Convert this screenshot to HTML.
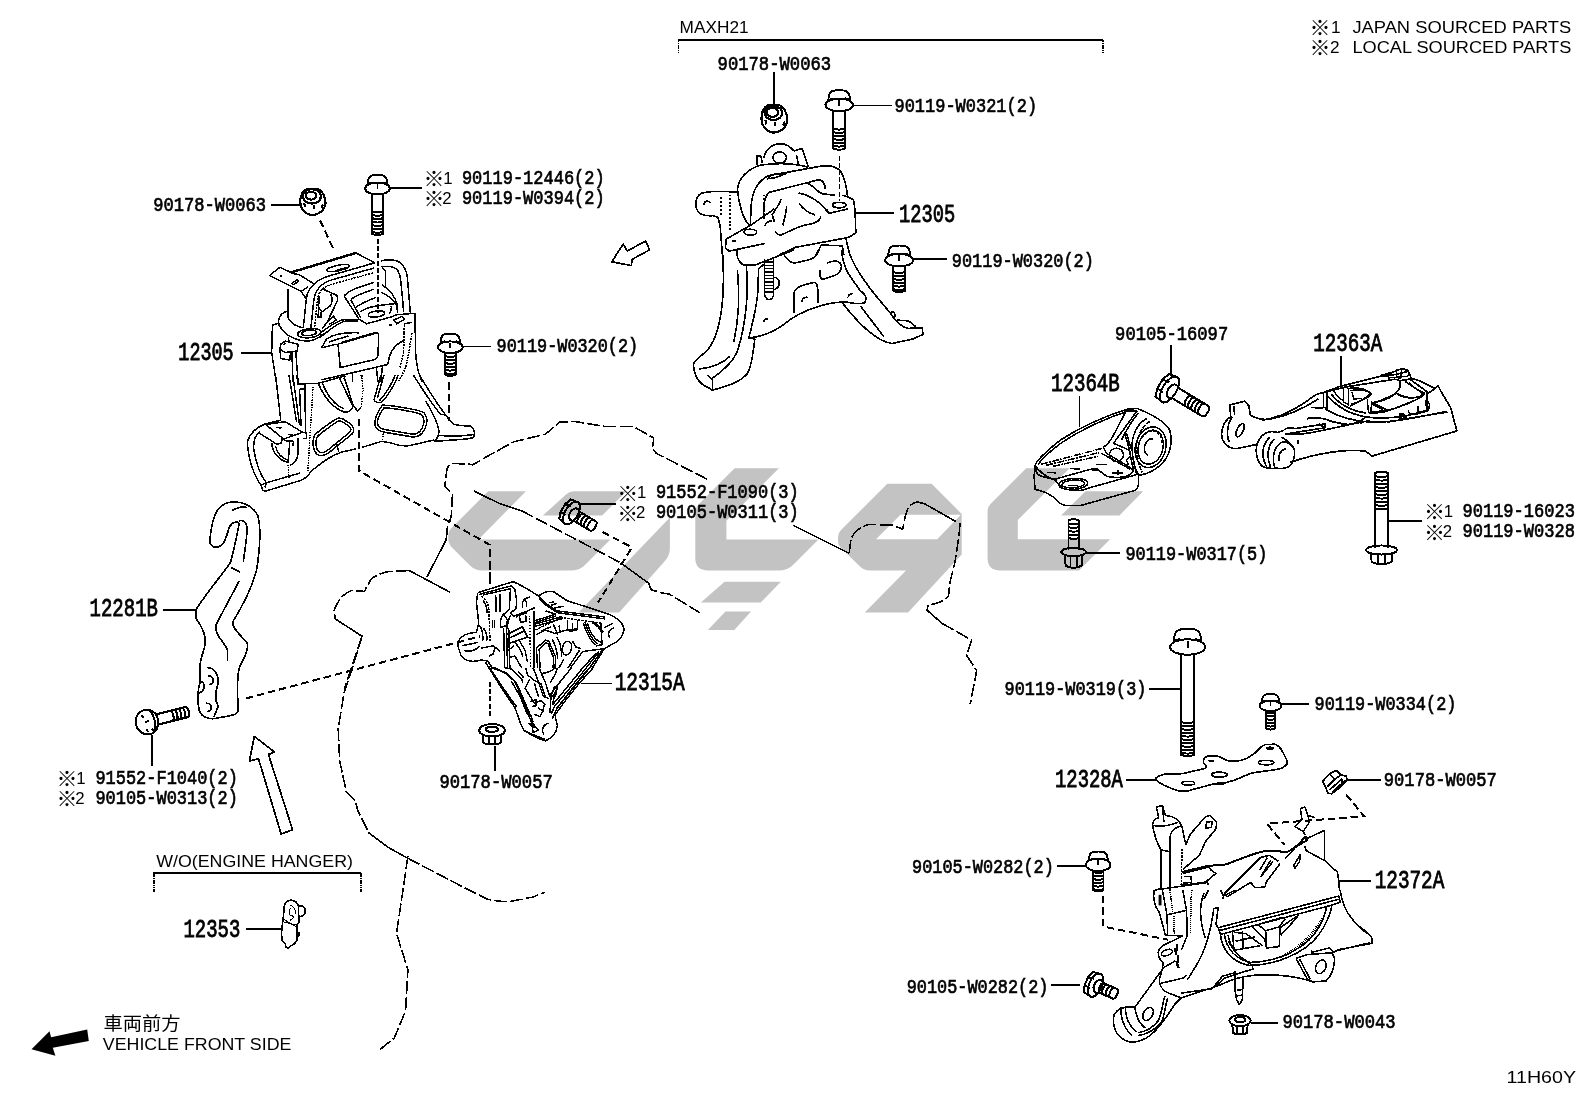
<!DOCTYPE html>
<html lang="ja"><head><meta charset="utf-8"><title>11H60Y</title>
<style>
html,body{margin:0;padding:0;background:#fff;}
body{width:1592px;height:1099px;overflow:hidden;}
svg{display:block;will-change:transform;}
.pn{font-family:"Liberation Mono","DejaVu Sans Mono",monospace;font-size:20.6px;fill:#000;stroke:#000;stroke-width:0.7px;}
.pb{font-family:"Liberation Mono","DejaVu Sans Mono",monospace;font-size:25px;fill:#000;stroke:#000;stroke-width:0.85px;}
.rg{font-family:"Liberation Sans","Noto Sans CJK JP",sans-serif;font-size:17.2px;fill:#000;}
.nt{font-family:"Liberation Sans","Noto Sans CJK JP",sans-serif;font-size:15px;fill:#000;}
.jp{font-family:"Liberation Sans","Noto Sans CJK JP",sans-serif;font-size:18.6px;fill:#000;}
.l{shape-rendering:crispEdges;fill:none;stroke:#000;stroke-width:1.45;stroke-linecap:butt;stroke-linejoin:round;}
.d{shape-rendering:crispEdges;fill:none;stroke:#000;stroke-width:2;stroke-dasharray:7.5 4;}
.w{fill:#c3c3c3;stroke:none;}
</style></head><body>
<svg width="1592" height="1099" viewBox="0 0 1592 1099">
<rect x="0" y="0" width="1592" height="1099" fill="#fff"/>
<!-- watermark.svg -->
<g id="watermark" class="w">
<path d="M488.2,491.3 L525.9,491.3 L478.5,539.6 L610.4,539.6 L586,564 Q580,570.5 572,570.5 L482,570.5 Q475,570.5 470,565.5 L452,547.5 Q448.3,543.8 448.3,538 L448.3,536 Q448.3,531.3 451.5,528 Z"/>
<path d="M574,491.3 L626.2,491.3 L602.1,515.6 L542.8,515.6 L566,494.5 Q569.7,491.3 574,491.3 Z"/>
<path d="M669.9,517.5 L669.9,548 Q669.9,556 664,562 L619.1,612.4 L578.6,612.4 Z"/>
<path d="M734.6,468.3 L778.9,468.3 L726.4,520.8 L726.4,539.4 L818.5,539.4 L794,564 Q788,570.4 780,570.4 L708,570.4 Q695.3,570.4 695.3,558 L695.3,513 Q695.3,508 699,504 Z"/>
<path d="M724.6,581.7 L780.9,581.7 L760.7,602.6 L700.9,602.6 Z"/>
<path d="M725.5,611.6 L751,611.6 L734.3,630 L707.9,630 Z"/>
<path fill-rule="evenodd" d="M887.3,483.7 L931.6,483.7 L961.7,513.9 L961.7,554.4 L908,612.4 L864.7,612.4 L906.1,570.4 L870,570.4 Q864,570.4 860,566.5 L841,548 Q838,545 838,541 L838,537 Q838,533 841,530 Z M900.5,514.8 L960.8,514.8 L937.2,539.3 L876,539.3 Z"/>
<path d="M1026.2,468.3 L1069.6,468.3 L1017.8,520 L1017.8,539.3 L1110.1,539.3 L1079,570.4 L1000,570.4 Q987.6,570.4 987.6,558 L987.6,511 Q987.6,507 990.5,504 Z"/>
<path d="M1085.6,491.2 L1143.1,491.2 L1119.5,515.4 L1061.1,515.4 Z"/>
</g>
<!-- engine.svg -->
<g id="engine">
<g transform="translate(320 410) scale(0.25478)">
<path class="l" style="stroke-width:6.24;stroke-dasharray:52 12" d="M1520,272 L1320,170 L1305,150 L1310,110 L1230,65 L1120,65 L1000,45 L940,48 L885,95 L760,125 L660,180 L600,215 L580,212 L520,210 Q500,215 497,240 L490,300 L520,330 L515,420 L500,460 L495,510"/>
<path class="l" style="stroke-width:6.24" d="M500,470 L495,510 L420,655 M350,630 L510,715 M605,318 L700,365 L790,395 M1180,600 L1290,680 M60,820 L165,888"/>
<path class="l" style="stroke-width:6.24;stroke-dasharray:52 12" d="M350,630 L260,635 Q215,650 200,665 L180,700 L175,712 L125,708 Q95,720 80,740 Q60,770 55,790 L60,820 M165,888 L130,990 L95,1099"/>
<path class="l" style="stroke-width:6.24;stroke-dasharray:52 12" d="M790,395 L1180,600 M1290,680 L1300,705 L1340,718 L1370,722 L1490,795"/>
</g>
<g transform="translate(690 440) scale(0.25478)">
<path class="l" style="stroke-width:6.24" d="M405,335 L625,445 M890,243 L920,250 L1000,295 M935,648 L930,668 L990,720"/>
<path class="l" style="stroke-width:6.24;stroke-dasharray:52 12" d="M625,445 L630,400 Q640,350 700,332 L790,333 L835,350 L845,300 Q855,250 890,243 M1000,295 L1060,330 L1055,380 L1040,480 L1020,560 L1015,610 Q1005,635 935,648 M990,720 L1105,785 L1085,845 L1125,905 L1115,960 L1100,1035"/>
</g>
<path class="l" style="stroke-width:1.56" d="M369.2,833.2 L387.4,846.9 L407.9,858.3"/>
<path class="l" style="stroke-width:1.56;stroke-dasharray:13 3" d="M362.4,635.1 L353.3,664.7 L344.2,692 L338.2,728.5 L339.6,760.4 L346.4,792.2 L355.5,801.3 L357.8,810.5 L369.2,833.2 M407.9,858.3 L460.3,885.6 L487.6,899.2 Q500,902 510.4,901.5 L533.1,897 L544.5,892.4 M407.9,856 L403.3,887.9 L396.5,933.4 L407.9,969.8 L405.6,1010.8 L394.2,1038.1 L378.3,1050.9"/>
</g>
<!-- p12305L.svg -->
<g id="p12305L">
<g transform="translate(240 262) scale(0.15076)" class="l" style="stroke-width:9.96">
<path d="M335,68 L265,35 L195,90 L405,195 L450,165 M345,75 L395,85 L490,145 M345,140 L380,118 L390,128 L355,150 Z M262,90 L280,95"/>
<path style="stroke-width:16.80" d="M335,70 L769,-60"/><path d="M769,-60 L892,4 L760,45"/>
<path d="M320,180 L320,370 C335,410 390,435 420,435 M405,195 L440,245"/>
<path d="M320,325 C270,335 245,375 260,420 C285,470 340,505 400,520 L450,525 C500,520 530,500 560,470"/>
<ellipse cx="460" cy="472" rx="78" ry="30" transform="rotate(-6 460 472)"/><ellipse cx="458" cy="470" rx="48" ry="18" transform="rotate(-6 458 470)"/>
<path d="M420,435 L440,245 C450,160 520,110 600,90 L895,5 M470,440 L490,250 C500,180 540,140 610,118 L890,40"/>
<path style="stroke-dasharray:14 6" d="M495,430 L515,240 C525,195 555,165 600,150 L890,70"/>
<ellipse cx="650" cy="40" rx="75" ry="18" transform="rotate(-12 650 40)"/><path style="stroke-width:16.80" d="M630,62 L705,40"/>
<path d="M545,178 L640,220 Q655,240 640,270 L575,405 M600,210 Q622,250 600,290 L545,330 L520,300 M525,225 L518,365 L538,365 L538,330 M575,405 L620,360 L640,385 L590,415 M545,440 L580,400"/>
<path d="M690,225 C720,190 760,175 890,135 M690,225 L790,380 M735,250 C760,225 800,210 890,180 M735,250 L800,370 M770,300 C800,275 850,255 900,235 M800,330 C830,305 880,290 1040,275"/>
<ellipse cx="905" cy="345" rx="55" ry="20" transform="rotate(-8 905 345)"/>
<path d="M935,-6 C980,-20 1040,-15 1066,7 C1095,35 1105,60 1110,100 L1130,340 M935,30 C990,25 1030,35 1045,54 C1060,80 1064,100 1066,121 L1079,252 L1085,335 M940,30 L965,60 L965,170 M940,150 C990,180 1030,230 1045,290 M935,200 C980,220 1020,250 1040,290 M1040,275 L1045,340 M1000,290 C1010,300 1000,330 990,345"/>
<path d="M540,465 C600,420 650,385 700,380 L790,380 L840,410 L1000,365 L1040,350 M520,505 C580,470 640,400 700,392 L785,392"/>
<path d="M1040,350 L1160,340 L1165,600 C1170,700 1190,760 1210,796 M1020,385 L1075,360 L1090,380 L1040,410 Z M985,415 L1010,420 M1090,410 L1140,400"/>
<path d="M255,405 L215,420 L210,600 L240,796"/>
<path d="M650,545 L905,470 Q920,470 920,490 L915,620 Q910,640 890,648 L665,700 Z M540,570 L575,510 C620,480 700,465 790,470 M590,530 L720,490 M540,570 L640,545"/>
<path style="stroke-width:15.60" d="M670,537 L900,470"/>
<path d="M540,782 L980,680 L990,630 C1010,570 1050,535 1090,520"/>
<path style="stroke-dasharray:12 6" d="M1090,420 L1085,600 L1060,700 M1140,470 L1120,600 L1100,700 L1050,796"/>
<path d="M270,545 L300,525 L385,545 L380,590 L300,600 L265,580 Z M265,580 L270,640 L330,650 L335,600 M345,600 L350,796 M370,590 L385,796 M320,500 L325,530 M285,550 L305,540"/>
<path d="M690,770 L700,796 M745,735 L745,796 M905,700 L915,796 M945,690 L935,796"/>
<path style="stroke-dasharray:5 6" d="M800,740 L810,796"/>
</g>
<g transform="translate(240 375) scale(0.15076)" class="l" style="stroke-width:9.96">
<path d="M236,0 L270,300"/>
<path d="M270,300 L165,325 C100,350 60,400 50,440 C50,560 100,680 140,730 L150,765 L170,770 L400,700 C440,685 460,660 470,640"/>
<path d="M130,375 C100,400 90,440 90,480 C100,580 140,670 175,715 L400,650 M175,715 L165,745 M140,730 L175,715"/>
<path d="M170,328 L300,310 L415,380 L290,425 Z M240,348 L275,352 M320,395 L350,398 M120,380 L245,460 L275,450 L280,415 M210,450 C215,520 260,565 320,580 L330,440 M235,470 C245,520 280,555 320,565 M295,435 L355,440 L350,470 M330,600 C360,590 380,560 385,520 L385,420 M415,380 L440,385 L440,420 L415,420"/>
<path d="M325,0 L375,310 M350,0 L395,330 M375,0 L385,60 L430,60 L435,380 M395,90 L405,340 M385,58 L520,55 L700,5"/>
<path style="stroke-width:15.60" d="M395,92 L430,92"/>
<path style="stroke-dasharray:6 5" d="M485,70 L450,640 M320,600 L325,690"/>
<path d="M520,58 C560,150 620,220 690,245 C720,250 745,235 750,200 L690,10 M545,50 C580,140 630,200 690,225 M660,20 L745,200"/>
<path style="stroke-dasharray:6 5" d="M750,200 L780,240 L805,215 L815,100 L810,0"/>
<path d="M750,200 L780,240 L805,215"/>
<path d="M655,285 C640,285 520,370 495,400 C475,440 485,500 510,525 C540,545 570,530 590,515 L745,390 C765,370 750,340 735,325 L680,290 Z M655,305 C640,310 535,385 512,410 C497,440 503,490 522,508 C545,522 565,512 580,500 L728,380 C742,365 735,350 722,338 L675,308 Z"/>
<path d="M945,200 C920,230 890,290 895,330 C900,360 930,375 960,380 L1140,410 C1180,415 1210,390 1225,360 C1245,320 1245,280 1220,250 C1190,230 1000,200 945,200 Z M955,218 C935,245 908,295 912,325 C917,347 940,358 965,362 L1138,392 C1170,396 1195,378 1208,352 C1225,318 1225,288 1205,263 C1180,247 1005,218 955,218 Z"/>
<path d="M935,0 L890,160 C890,180 920,190 940,180 C980,140 1030,60 1050,0 M955,0 L912,150 M925,170 C965,130 1010,55 1030,0"/>
<path d="M1150,0 C1200,80 1280,200 1330,260 L1365,265 M1190,0 C1250,100 1330,230 1400,310 L1415,325 C1460,340 1500,335 1530,340 C1550,350 1560,380 1555,400 C1550,420 1530,420 1500,425 L1290,440 M1290,440 C1310,420 1320,400 1320,370 C1310,300 1260,220 1230,170 M1320,400 C1400,410 1480,405 1555,395"/>
<path d="M470,640 C520,600 580,540 680,510 L770,490 M810,480 L940,440 L1000,450 C1050,470 1100,475 1140,465 L1290,430 M640,450 L655,510"/>
<path style="stroke-dasharray:6 5" d="M950,360 L945,440"/>
</g>
</g>
<!-- p12305R.svg -->
<g id="p12305R">
<g transform="translate(690 135) scale(0.15076)" class="l" style="stroke-width:10.80">
<path d="M445,200 L445,140 L470,140 L480,185 M490,150 C500,100 540,60 600,58 C640,58 660,75 690,105 L745,90 L785,215 M705,130 L720,195"/>
<ellipse cx="595" cy="150" rx="45" ry="38"/>
<path d="M785,215 C700,185 560,185 470,200 C380,225 320,290 315,360 C320,440 350,560 395,600"/>
<path d="M400,600 L405,480 C410,380 440,310 520,270 L850,210 C920,195 970,210 1000,240 C1030,290 1040,350 1045,410 L1085,430 L1095,500 L1100,650 L1050,680 L700,745 L590,796"/>
<path d="M515,290 L545,262 L640,255 L560,285 Z M490,560 C485,470 490,410 525,380 L850,298 C880,295 895,320 898,360"/>
<path d="M780,320 C830,340 840,380 880,390 L960,400 M720,385 C800,400 870,450 920,520 L1050,490 M920,520 L905,490 M1045,410 L1010,400"/>
<ellipse cx="990" cy="465" rx="45" ry="18"/>
<path d="M605,425 C590,470 560,500 545,530 L560,575 M640,470 C640,520 625,560 615,600 M725,455 C750,490 790,520 830,530 M870,540 C860,570 840,580 800,590 C720,600 660,640 600,665 C580,660 570,650 565,635 M495,605 C505,580 520,570 545,570"/>
<path d="M400,600 L240,690 L235,750 L260,770 L495,720 M400,600 L560,490 M280,705 L305,705"/>
<ellipse cx="400" cy="645" rx="42" ry="20"/>
<path d="M315,380 C200,370 120,375 80,385 C45,400 35,440 40,480 C50,520 90,540 150,535 L185,545 L200,600 L215,796 M95,465 C90,440 120,430 135,450"/>
<path style="stroke-dasharray:5 4" d="M205,410 V530 M265,400 V640 M490,400 V530"/>
<path d="M840,796 L870,730 L1010,735 L1020,796 M1035,690 L1060,796"/>
</g>
<g transform="translate(690 250) scale(0.15076)" class="l" style="stroke-width:10.80">
<path d="M215,0 C225,150 230,300 200,450 C180,550 160,620 100,680 C60,710 30,730 22,760 C25,810 45,860 80,890 L150,930 C250,900 330,880 380,820 C410,770 420,680 430,590"/>
<path d="M315,135 C330,300 320,480 290,610 M375,105 L380,280 C370,450 340,600 310,680 C280,750 220,800 150,850 L150,930 M60,790 C150,780 220,750 265,705 M115,830 L150,860"/>
<path d="M310,0 C310,60 330,90 360,100 L430,100 L690,0 M455,125 L490,95 M455,125 L450,280 C440,400 410,500 390,585 L430,590"/>
<path d="M495,60 L495,300 C510,340 540,340 555,300 L555,50 M560,180 C600,190 605,240 560,265"/>
<path style="stroke-width:8.40" d="M495,80 H555 M495,102 H555 M495,124 H555 M495,146 H555 M495,168 H555 M495,190 H555 M495,212 H555 M495,234 H555 M495,256 H555 M495,278 H555"/>
<path d="M390,585 C500,570 580,530 640,480 C740,400 900,350 1010,345 C1060,340 1100,370 1160,350 C1175,320 1160,290 1130,270"/>
<path d="M690,420 L690,290 C695,250 720,240 820,215 C845,215 850,240 850,350 M745,345 C740,320 760,310 785,315 M490,480 C485,460 500,455 520,458 M1050,315 C1048,295 1060,290 1078,292"/>
<path d="M625,35 C650,70 680,90 700,85 L790,65 C830,55 840,30 850,0 M910,85 C960,65 1000,70 1005,110 C1000,150 980,165 940,175 L880,195 C860,190 860,160 862,135"/>
<path d="M1005,0 C1010,80 1040,150 1080,200 L1130,270 M1050,0 C1080,100 1150,200 1230,300 L1330,420 C1340,400 1360,410 1360,440 L1350,455 M1330,420 C1370,480 1400,510 1450,520 L1540,515 L1545,560 L1480,590 L1340,620 C1260,610 1150,530 1010,350 M1130,370 L1285,575 M1370,465 L1450,470 L1500,510"/>
</g>
</g>
<!-- p12364B.svg -->
<g id="p12364B">
<g transform="translate(1020 400) scale(0.1005)" class="l" style="stroke-width:15.60">
<path d="M150,650 C160,610 250,520 400,400 C600,270 850,160 1070,90 L1170,85 C1300,140 1430,200 1490,300 C1520,400 1500,520 1440,600 C1380,680 1280,740 1180,750"/>
<path d="M180,650 C200,600 300,510 420,420 C620,290 860,180 1075,110 L1165,110"/>
<path d="M150,650 L140,760 L150,890 C220,900 280,930 330,965 C370,1010 410,1045 456,1049 L606,1049 L1149,898 C1170,880 1178,860 1178,842 L1180,750"/>
<path d="M150,650 C180,700 260,770 340,790 C380,820 400,870 450,890 L600,900 C660,890 700,870 740,860 L1170,740 M180,690 C220,740 300,780 360,800 M165,670 C150,700 160,730 200,755 L340,790"/>
<path d="M340,790 L700,690 L760,685 C800,700 820,740 870,760 C950,780 1050,770 1100,740 L1130,700"/>
<path style="stroke-width:26.40" d="M720,690 L775,690"/>
<path style="stroke-dasharray:70 14 14 14" d="M210,640 L820,480 M260,650 L800,520 M330,660 L780,560"/>
<g transform="rotate(15 1300 470)"><ellipse cx="1300" cy="470" rx="150" ry="205"/><ellipse cx="1300" cy="470" rx="122" ry="172"/><path d="M1300,385 A60,85 0 0,0 1300,555"/><path style="stroke-dasharray:30 14" d="M1195,400 A112,160 0 0,1 1400,400"/></g>
<path d="M1070,90 C1000,200 950,330 900,400 C880,430 860,450 830,470 M1165,110 C1080,220 1000,340 930,430 M1175,130 C1100,230 1040,330 1010,400 M930,430 L1090,500 M1040,330 C1060,400 1080,450 1090,500 M1060,330 C1075,390 1095,440 1105,490"/>
<ellipse cx="960" cy="545" rx="70" ry="65"/>
<path d="M1260,185 C1170,230 1110,350 1115,480 C1120,600 1150,700 1180,750"/><path style="stroke-dasharray:40 14" d="M1290,215 C1215,260 1160,370 1160,480 C1165,580 1185,660 1215,720"/>
<path d="M830,470 L860,530 L1060,650 L1130,700 L1100,560 L1090,500 M1100,560 L1060,600 L1080,650 M810,530 L1010,640 L1100,690 M1120,560 L1160,740"/>
<ellipse cx="530" cy="835" rx="145" ry="55" transform="rotate(-4 530 835)"/><ellipse cx="530" cy="835" rx="112" ry="38" transform="rotate(-4 530 835)"/>
<path d="M480,852 L580,850 M270,720 L360,725 M500,680 L600,690 M760,640 L870,640 M920,725 L1020,725 M975,700 L975,745"/>
</g>
</g>
<!-- p12363A.svg -->
<g id="p12363A">
<g transform="translate(1215 365) scale(0.15704)" class="l" style="stroke-width:10.56">
<path d="M100,330 L95,255 L190,230 L215,260 L225,320 C260,340 300,350 340,345 M100,330 C50,360 30,430 50,480 C70,520 110,540 150,530 L270,505 M120,260 L125,320 M110,330 C80,370 70,440 90,490"/>
<ellipse cx="160" cy="415" rx="20" ry="45" transform="rotate(25 160 415)"/>
<path d="M340,345 C450,320 550,260 640,190 L690,175 L800,135 M300,350 C440,340 560,280 660,215"/>
<path d="M800,135 L1100,60 L1190,22 L1230,35 L1250,85 L1300,100 L1400,150 L1420,130 L1440,170 L1500,270 L1540,420 L1000,580 L960,550 C850,530 650,560 480,620"/>
<path d="M690,175 L690,270 L715,275 L715,170 M715,170 L830,140 L850,150 L850,260 M830,140 L1150,90 M850,150 C900,140 960,150 990,180 C960,220 900,240 860,260"/>
<path d="M1150,90 L1175,100 L1180,140 C1150,200 1080,230 1000,240 L990,300 M1180,100 L1240,90 L1350,170 L1355,290 L1290,300 L1290,260 M1210,105 C1250,130 1300,160 1330,190 C1280,230 1200,260 1100,290 L990,300 M1160,180 C1200,210 1260,215 1310,200"/>
<path d="M1100,60 L1110,90 M1190,22 L1180,90 M1060,75 L1150,60 L1230,40 M1000,240 L1100,290 M1010,245 L1160,180 M1400,150 L1350,185 M1440,170 L1500,270"/>
<path d="M720,200 C800,290 900,320 960,330 C1050,345 1150,335 1230,320 L1350,290 M700,280 C800,340 900,360 1000,365 C1150,365 1300,330 1480,295 M1190,315 L1185,345 L1215,335 Z M740,185 C800,260 880,295 960,305"/>
<path d="M610,270 L690,275 M590,340 C650,330 700,340 740,360 L850,380 C900,370 940,350 960,330 M440,415 C450,400 480,395 510,405 L700,375 L700,400 L445,440 M445,440 C500,445 560,440 620,430 L950,360 M660,375 L700,400 M530,480 L530,505"/>
<path d="M300,645 C250,590 250,500 300,450 C330,425 370,420 400,430 L440,415 M330,650 C290,580 300,500 350,460 M355,655 C325,580 335,510 380,470 M300,645 C330,660 370,662 400,655 M380,655 C360,580 380,520 420,495 C450,480 490,500 505,540 C510,580 500,620 475,645 C450,660 410,662 380,655 M410,610 C400,570 420,540 450,535 M420,460 C450,470 470,490 480,510"/>
</g>
<g transform="translate(1300 365) scale(0.10365)" class="l" style="stroke-width:13.20">
<path d="M420,210 L420,360 L470,380 L470,250 M480,250 C560,230 650,240 690,280 C650,330 560,360 490,380 M500,260 L520,330 L600,320 M650,330 L660,460 L690,470 L690,350 M700,380 L830,450 M690,470 L830,450 L1130,330"/>
<path d="M930,270 C960,310 1050,330 1150,310 L1200,270 M1050,170 C1100,220 1150,250 1200,270 M1040,440 C1060,480 1100,485 1140,470 L1240,440 L1250,380 L1220,330 M1140,470 L1140,400 M1220,440 L1215,340"/>
<path d="M930,40 L935,120 L970,135 M780,100 L920,60 M850,125 L1040,110 L1050,70 M320,245 C360,300 400,335 420,345 M965,470 L1000,470 L1025,500 L990,530 L965,530 Z"/>
<path style="stroke-dasharray:40 12" d="M70,520 C150,500 230,510 300,540 L420,575 L600,560 M640,530 C720,570 850,560 1000,520 L1430,455"/>
</g>
</g>
<!-- p12315A.svg -->
<g id="p12315A">
<g transform="translate(455 578) scale(0.11307)" class="l" style="stroke-width:13.20">
<path d="M200,130 L515,32 C600,70 680,120 740,160 C770,130 820,115 870,120 L990,200 L1300,300 C1400,330 1480,380 1495,450 C1490,520 1440,570 1390,585 L1320,625 L1215,796 M1300,640 L1190,796 M1275,650 L1160,796 M1250,662 L1130,796 M200,130 L190,220 L210,400 L190,480 C120,485 50,510 30,560 L25,600 L55,690 C90,730 150,750 230,725 L290,735 L330,796"/>
<path d="M215,145 L495,70 L530,100 L545,200 L540,270 L490,310 M245,150 L490,95 L480,280 L420,330 M250,200 C270,230 285,270 285,310 M330,370 L330,440 M350,370 L350,440 M420,330 C400,360 395,410 410,440 L450,420 C470,390 465,350 440,335 Z M660,170 C610,175 585,215 600,260"/>
<path style="stroke-dasharray:22 9" d="M230,160 C280,190 300,240 300,300 L310,560 M710,460 L940,350 L1290,400"/>
<path d="M740,160 L790,215 L900,290 L1330,345 M830,220 L880,210 M850,240 L905,225 M880,265 L960,250 M490,310 L520,340 C580,310 660,290 710,260 M700,290 L700,796 M570,340 L580,390 L630,385 L625,330"/>
<path style="stroke-dasharray:6 7" d="M660,340 L670,796"/>
<path d="M700,380 L890,320 L800,290 M700,410 L950,340 M720,500 L800,460 L880,490 L990,460 M870,410 L910,500 M920,420 L930,480 M995,375 L995,460 L1085,450 L1085,375"/>
<path d="M1150,390 C1170,460 1200,540 1260,580 M1170,400 C1190,470 1220,540 1290,570 M1200,380 C1250,400 1290,440 1310,480 M1290,400 L1300,590 L1250,600 M1410,440 C1360,450 1345,500 1370,530 M1320,440 L1400,400"/>
<path d="M430,440 L440,796 M455,430 L465,796 M460,500 L600,430 M465,540 L610,470 M470,580 L650,520 M490,330 C460,400 450,480 455,560 M520,560 C560,600 590,650 600,700 M560,540 L620,640 L640,740 M490,700 L530,690 L590,796"/>
<path d="M720,620 L800,550 L830,560 L890,700 L885,796 M720,620 L730,796 M860,540 C890,600 910,660 905,720 M1040,560 L1070,610 L1110,625 M1320,625 L1130,650 L1020,796 M960,720 L920,796"/>
<ellipse cx="990" cy="620" rx="40" ry="62" transform="rotate(15 990 620)"/>
<path d="M60,600 L200,570 M80,640 C130,660 190,640 215,600 M250,440 C280,480 290,520 280,560 M230,620 L340,600 L400,650 M300,690 L340,670 L350,620"/>
<path d="M745,178 L795,232 L905,307 L1330,362 M705,395 L895,335 M705,428 L955,357 M1135,395 C1155,465 1185,545 1245,592 M215,420 C240,450 250,500 245,560 M738,638 L805,572 L822,580 L872,705 L868,796 M745,640 L752,796 M475,440 L485,796 M540,345 C560,330 600,318 640,305 M760,470 L850,430 M1010,470 L1080,462 M1040,400 L1040,450 M1215,395 C1260,420 1290,455 1300,490 M600,440 L640,520 M520,600 L470,640 M900,520 C930,570 945,640 940,700 M1100,640 L1000,796 M610,180 C630,200 640,230 630,255 M360,150 L365,300 M400,140 L400,300"/>
</g>
<g transform="translate(455 660) scale(0.11307)" class="l" style="stroke-width:13.20">
<path d="M270,20 C320,100 400,240 530,420 C560,500 580,580 610,620 C680,670 740,700 800,715 C860,690 900,640 905,580 C900,540 880,520 890,480 L960,380 L1100,205 L1220,70"/>
<path d="M1190,70 L1060,230 L900,430 L860,520 M1160,70 L1040,220 L880,410 L850,480 M1130,70 L1000,230 L860,400 M1030,70 L900,230 L850,300 L840,470"/>
<path d="M320,70 L450,110 L520,180 L560,260 L680,560 L690,640 L740,620 L680,555 M500,190 L580,330 L640,480 L680,500 M440,70 L500,80 L590,170 L600,200"/>
<path d="M625,70 L640,130 L700,180 L760,210 L800,330 M690,70 L720,140 L780,320 L830,340 M745,70 L760,110 L800,200 L840,330 M660,170 L620,250 L700,380 L760,360 L800,400 M660,370 L720,350 L715,405 L680,410 M735,425 L780,450 L750,500 L700,480 M790,400 L770,470"/>
<path d="M770,120 C830,110 870,90 885,70 M905,70 C895,120 870,160 840,200 M850,320 L880,235 L905,235 L890,320 Z M840,330 L880,320 L860,400 M830,560 C780,570 755,620 790,660"/>
<path d="M340,62 L455,125 L535,195 L575,275 L692,548 M1175,82 L1050,237 L892,437 M300,60 C360,150 430,260 545,415 M610,625 C680,655 740,685 795,700 M700,200 L740,330 M560,100 L610,160 M905,250 L860,330 M650,560 L700,600 L690,560 Z"/>
</g>
</g>
<!-- p12281B.svg -->
<g id="p12281B">
<g transform="translate(170 495) scale(0.20942)" class="l" style="stroke-width:7.80">
<path d="M190,215 C200,120 215,60 270,38 C330,25 390,40 420,100 C435,160 430,250 415,350 C395,440 340,540 300,605 C295,640 350,680 370,710 C375,760 340,790 330,830 C315,900 325,960 325,1030 C320,1050 310,1050 225,1065 C190,1075 150,1060 140,1030 C130,990 130,930 145,890 C140,850 140,800 155,760 C185,690 160,640 125,590 L125,545 C180,460 250,380 290,320 C305,260 320,190 330,140 C330,125 300,125 285,150 C270,190 265,240 225,250 C200,250 190,235 190,215 Z"/>
<path d="M295,75 C320,60 350,55 370,60 M330,125 C350,115 370,130 368,170 C365,220 355,280 350,320 M330,410 C300,470 250,560 220,620 C210,670 260,700 275,740 L275,795 M290,345 L335,368"/>
<path d="M175,825 C210,820 235,860 230,900 C215,940 215,980 230,1010 L210,1060 M180,865 C215,860 215,905 185,905 M170,995 C205,990 205,1035 175,1035 M145,890 C170,895 170,935 140,945"/>
</g>
</g>
<!-- p12353.svg -->
<g id="p12353">
<g transform="translate(250 890) scale(0.06369)" class="l" style="stroke-width:25.20">
<path d="M540,240 C560,180 600,160 650,160 C720,170 750,210 760,250 L830,255 L860,290 L860,370 L810,415 L770,415 L765,520 L745,540 L740,680 L735,800 L690,850 L620,890 L605,920 L560,890 L555,850 L505,800 L495,700 L500,600 L520,450 Z"/>
<path style="stroke-width:16.80" d="M760,250 L770,415 M505,495 L750,555 M530,460 L745,590 M630,240 C680,250 710,290 715,370 M650,290 C620,290 610,340 620,390 L660,400 L685,430 L630,480"/>
<path style="fill:#000" d="M730,680 L770,665 L780,690 L745,740 Z"/>
</g>
</g>
<!-- p12328A.svg -->
<g id="p12328A">
<g transform="translate(1140 740) scale(0.1005)" class="l" style="stroke-width:16.20">
<path d="M150,390 C160,370 200,350 250,340 L420,335 L640,285 C670,270 660,250 640,240 C620,210 630,170 680,160 L770,160 C820,175 850,210 900,212 L970,210 C1020,200 1050,190 1070,180 L1150,125 C1180,90 1210,55 1250,45 L1340,42 C1380,50 1400,80 1420,120 C1440,160 1470,200 1465,235 C1440,270 1400,290 1350,295 L1130,325 C1050,345 980,390 920,405 L840,430 L740,435 L480,505 L390,510 C300,480 200,440 150,390 Z"/>
<ellipse cx="480" cy="430" rx="65" ry="18"/><ellipse cx="790" cy="345" rx="78" ry="25"/><ellipse cx="1255" cy="225" rx="78" ry="22"/>
<ellipse cx="1295" cy="82" rx="32" ry="10" style="fill:#000"/>
<path d="M680,205 L740,210"/><path style="stroke-width:24.00" d="M735,436 L840,432"/>
</g>
</g>
<!-- p12372A.svg -->
<g id="p12372A">
<g transform="translate(1130 795) scale(0.15076)" class="l" style="stroke-width:10.32">
<path d="M175,80 L215,70 L235,135 C290,140 330,170 345,210 L370,330 M175,80 L190,150 C160,160 150,180 150,200 C160,260 180,320 205,365 L205,620 M150,200 C200,215 280,200 320,180 M205,365 L265,375 L265,280 C270,240 300,215 340,205 M265,375 L265,630 M215,70 L225,180"/>
<path style="stroke-dasharray:16 7" d="M345,355 L340,600"/>
<path d="M370,330 L400,260 L500,145 L530,135 L575,180 L570,225 L500,310 L460,400 L350,495 M510,180 L545,175 L540,215 L500,220 Z"/>
<path style="stroke-width:13.20" d="M345,510 L520,470 L640,460 C740,420 830,385 880,375 L960,370 L1040,380"/>
<path d="M1040,380 C1080,360 1120,330 1165,270 M350,520 L515,480 M520,470 C530,500 550,510 570,520 L510,570 L520,600 M355,540 L405,540 L408,580 L350,585 M340,600 L520,575 M165,630 L520,580"/>
<path d="M205,620 L165,630"/>
<path d="M630,650 L865,415 L925,400 L985,440 M630,650 L645,675 L800,580 L830,615 L895,610 L905,575 L995,455 M860,500 L910,415 M875,530 L935,430 M865,545 L950,440 M630,650 L615,690"/>
<path d="M1130,90 L1160,80 L1180,135 L1225,150 M1130,90 L1140,160 L1095,210 L1145,240 L1165,265 M1165,270 L1130,320 L1040,380 M1165,270 L1175,300 L1100,345 L1030,420 M1160,295 L1290,235 L1290,430 M1180,135 L1190,180 L1150,240 M1130,395 L1085,470 L1095,485 L1125,440 Z M1160,340 L1170,370 L1290,435"/>
<path d="M1290,430 L1350,490 L1375,510 L1385,570 L1390,640"/>
</g>
<g transform="translate(1130 890) scale(0.15076)" class="l" style="stroke-width:10.32">
<path d="M585,250 L1385,40 L1395,80 L1340,100 L600,295 Z M590,270 L1390,60"/>
<path d="M600,295 C610,400 680,480 790,500 C950,500 1150,430 1250,300 C1300,230 1330,160 1340,100 M625,290 C640,390 700,460 800,480 C950,480 1130,410 1225,290 C1270,225 1295,165 1305,110 M650,300 C665,370 700,430 770,470 L810,500 L815,525 L700,560"/>
<path style="stroke-width:19.20;stroke-dasharray:6 7" d="M1000,445 C1100,400 1200,320 1275,190"/>
<path d="M810,240 L895,330 L905,385 L990,375 L995,250 L1120,165 M900,270 L990,245 M900,270 L905,385 M810,240 L1000,185 L1030,190 M850,230 L900,270 M1000,300 L1110,180 M990,245 L1030,190"/>
<path d="M680,280 L690,400 L860,370 M650,340 L690,400 M700,340 L830,310 M745,275 L752,390 M690,280 L770,290 L880,370"/>
<path d="M160,0 C150,60 165,110 195,150 L235,300 L350,305 M215,0 L245,165 L375,135 L350,0 M245,165 L250,300 M375,135 L380,300 L340,400 M490,20 C460,100 460,200 500,320 M520,0 L490,60 M585,115 L555,125 C540,250 500,400 440,500 L380,597 M585,115 L570,230 L585,250 M600,0 L620,40 L700,0"/>
<path style="fill:#000;stroke-width:4.80" d="M192,35 L207,35 L207,100 L192,100 Z"/>
<path style="stroke-dasharray:8 6" d="M290,170 L295,310 M410,0 C400,100 405,200 400,290 M265,0 L285,160"/>
<path d="M350,305 L215,370 C180,400 180,430 200,460 L220,480 L215,520 L200,560 M215,520 L300,470"/>
<ellipse cx="245" cy="415" rx="38" ry="19" transform="rotate(-20 245 415)"/>
<path style="stroke-width:15.60" d="M300,385 L305,430 M310,470 L318,515"/>
<path d="M1395,0 C1400,60 1420,130 1480,200 C1520,250 1560,280 1592,300 M1592,350 L1380,400 L1350,410 L1320,385 L1200,415 M1205,400 L1210,430"/>
</g>
<g transform="translate(1100 915) scale(0.18843)" class="l" style="stroke-width:8.40">
<path d="M330,290 L185,490 C130,480 90,500 75,530 C65,570 75,620 110,650 C140,675 180,680 220,665 C290,640 340,560 400,470 L430,440 M345,430 C330,470 330,520 310,560 C280,600 240,620 200,625 M360,440 C345,480 345,530 325,570 C290,610 250,635 200,640 M110,490 C110,540 125,600 170,640 M135,490 C135,540 155,590 195,620 M185,490 C190,530 200,570 240,600"/>
<ellipse cx="255" cy="525" rx="24" ry="38" transform="rotate(30 255 525)"/>
<path d="M330,290 L315,340 C315,380 340,410 380,420 L430,440 L600,385 L640,370 C700,340 760,325 820,320 C900,315 1000,320 1080,340 L1130,355 M325,362 L440,335 L460,320 M430,415 L600,390 M620,372 L660,335 L800,290 M600,385 L650,325 L720,305"/>
<path d="M1040,230 L1100,340 L1130,355 L1200,350 C1230,320 1245,280 1245,230 L1230,200 M1060,235 L1115,340"/>
<ellipse cx="1172" cy="275" rx="26" ry="38" transform="rotate(25 1172 275)"/>
<path d="M715,295 L715,390 L725,450 L740,475 L755,450 L760,330 M725,400 L755,395 M722,430 L755,425"/>
<path d="M1445,120 L1445,150 L1260,185 L1240,200 L1100,210 L1040,230 M1380,60 C1410,90 1430,105 1445,120"/>
</g>
</g>
<!-- bolts.svg -->
<g id="bolts">
<path class="l" style="stroke-width:1.98" d="M367.8,185.0 C367.8,175.8 370.7,174.8 377.5,174.8 C384.3,174.8 387.2,175.8 387.2,185.0 M365.1,188.5 a12.4,5.9 0 1,0 24.8,0 a12.4,5.9 0 1,0 -24.8,0 M367.8,184.0 l4.4,-1.5 M387.2,184.0 l-4.4,-1.5 M377.5,184.0 v5.1 M371.9,193.4 V233.7 Q377.5,236.2 383.1,233.7 V193.4 M371.9,211.3 Q377.5,213.3 383.1,211.3 M371.9,214.7 Q377.5,216.7 383.1,214.7 M371.9,218.1 Q377.5,220.1 383.1,218.1 M371.9,221.5 Q377.5,223.5 383.1,221.5 M371.9,224.9 Q377.5,226.9 383.1,224.9 M371.9,228.3 Q377.5,230.3 383.1,228.3 M371.9,231.7 Q377.5,233.7 383.1,231.7"/>
<path class="l" style="stroke-width:1.98" d="M828.4,101.1 C828.4,91.3 831.6,90.2 839.2,90.2 C846.8,90.2 850.0,91.3 850.0,101.1 M825.4,104.9 a13.8,6.3 0 1,0 27.7,0 a13.8,6.3 0 1,0 -27.7,0 M828.4,100.0 l4.9,-1.6 M850.0,100.0 l-4.9,-1.6 M839.2,100.0 v5.5 M833.0,110.2 V148.5 Q839.2,151.0 845.4,148.5 V110.2 M833.0,128.6 Q839.2,130.6 845.4,128.6 M833.0,132.0 Q839.2,134.0 845.4,132.0 M833.0,135.4 Q839.2,137.4 845.4,135.4 M833.0,138.8 Q839.2,140.8 845.4,138.8 M833.0,142.2 Q839.2,144.2 845.4,142.2 M833.0,145.6 Q839.2,147.6 845.4,145.6"/>
<path class="l" style="stroke-width:1.98" d="M888.3,256.4 C888.3,246.6 891.6,245.5 899.2,245.5 C906.8,245.5 910.1,246.6 910.1,256.4 M885.2,260.2 a13.9,6.3 0 1,0 27.9,0 a13.9,6.3 0 1,0 -27.9,0 M888.3,255.3 l4.9,-1.6 M910.1,255.3 l-4.9,-1.6 M899.2,255.3 v5.5 M893.2,265.5 V290.8 Q899.2,293.3 905.2,290.8 V265.5 M893.2,272.0 Q899.2,274.0 905.2,272.0 M893.2,275.4 Q899.2,277.4 905.2,275.4 M893.2,278.8 Q899.2,280.8 905.2,278.8 M893.2,282.2 Q899.2,284.2 905.2,282.2 M893.2,285.6 Q899.2,287.6 905.2,285.6 M893.2,289.0 Q899.2,291.0 905.2,289.0"/>
<path class="l" style="stroke-width:1.98" d="M440.6,343.7 C440.6,334.7 443.5,333.7 450.3,333.7 C457.1,333.7 460.0,334.7 460.0,343.7 M437.9,347.2 a12.4,5.8 0 1,0 24.8,0 a12.4,5.8 0 1,0 -24.8,0 M440.6,342.7 l4.4,-1.5 M460.0,342.7 l-4.4,-1.5 M450.3,342.7 v5.0 M444.9,352.0 V374.6 Q450.3,377.1 455.7,374.6 V352.0 M444.9,356.0 Q450.3,358.0 455.7,356.0 M444.9,359.4 Q450.3,361.4 455.7,359.4 M444.9,362.8 Q450.3,364.8 455.7,362.8 M444.9,366.2 Q450.3,368.2 455.7,366.2 M444.9,369.6 Q450.3,371.6 455.7,369.6 M444.9,373.0 Q450.3,375.0 455.7,373.0"/>
<path class="l" style="stroke-width:1.98" d="M1173.9,642.3 C1173.9,630.2 1178.0,628.8 1187.6,628.8 C1197.2,628.8 1201.2,630.2 1201.2,642.3 M1170.1,647.0 a17.5,7.8 0 1,0 35.0,0 a17.5,7.8 0 1,0 -35.0,0 M1173.9,641.0 l6.1,-2.0 M1201.2,641.0 l-6.1,-2.0 M1187.6,641.0 v6.8 M1181.0,653.8 V754.8 Q1187.6,757.3 1194.2,754.8 V653.8 M1181.0,722.0 Q1187.6,724.0 1194.2,722.0 M1181.0,725.4 Q1187.6,727.4 1194.2,725.4 M1181.0,728.8 Q1187.6,730.8 1194.2,728.8 M1181.0,732.2 Q1187.6,734.2 1194.2,732.2 M1181.0,735.6 Q1187.6,737.6 1194.2,735.6 M1181.0,739.0 Q1187.6,741.0 1194.2,739.0 M1181.0,742.4 Q1187.6,744.4 1194.2,742.4 M1181.0,745.8 Q1187.6,747.8 1194.2,745.8 M1181.0,749.2 Q1187.6,751.2 1194.2,749.2 M1181.0,752.6 Q1187.6,754.6 1194.2,752.6"/>
<path class="l" style="stroke-width:1.98" d="M1261.9,702.8 C1261.9,694.9 1264.5,694.0 1270.5,694.0 C1276.5,694.0 1279.1,694.9 1279.1,702.8 M1259.5,705.9 a11.0,5.1 0 1,0 22.0,0 a11.0,5.1 0 1,0 -22.0,0 M1261.9,702.0 l3.9,-1.3 M1279.1,702.0 l-3.9,-1.3 M1270.5,702.0 v4.4 M1265.8,710.0 V728.3 Q1270.5,730.8 1275.2,728.3 V710.0 M1265.8,712.0 Q1270.5,714.0 1275.2,712.0 M1265.8,715.4 Q1270.5,717.4 1275.2,715.4 M1265.8,718.8 Q1270.5,720.8 1275.2,718.8 M1265.8,722.2 Q1270.5,724.2 1275.2,722.2 M1265.8,725.6 Q1270.5,727.6 1275.2,725.6"/>
<path class="l" style="stroke-width:1.98" d="M1088.8,861.4 C1088.8,852.5 1091.7,851.5 1098.3,851.5 C1104.9,851.5 1107.8,852.5 1107.8,861.4 M1086.1,864.8 a12.2,5.7 0 1,0 24.3,0 a12.2,5.7 0 1,0 -24.3,0 M1088.8,860.4 l4.3,-1.5 M1107.8,860.4 l-4.3,-1.5 M1098.3,860.4 v4.9 M1093.0,869.5 V890.2 Q1098.3,892.7 1103.5,890.2 V869.5 M1093.0,872.0 Q1098.3,874.0 1103.5,872.0 M1093.0,875.4 Q1098.3,877.4 1103.5,875.4 M1093.0,878.8 Q1098.3,880.8 1103.5,878.8 M1093.0,882.2 Q1098.3,884.2 1103.5,882.2 M1093.0,885.6 Q1098.3,887.6 1103.5,885.6 M1093.0,889.0 Q1098.3,891.0 1103.5,889.0"/>
<path class="l" style="stroke-width:1.98" d="M1068.5,550.0 V520.5 Q1073.6,518.0 1078.7,520.5 V550.0 M1068.5,523.5 Q1073.6,525.5 1078.7,523.5 M1068.5,527.1 Q1073.6,529.1 1078.7,527.1 M1068.5,530.7 Q1073.6,532.7 1078.7,530.7 M1068.5,534.3 Q1073.6,536.3 1078.7,534.3 M1068.5,537.9 Q1073.6,539.9 1078.7,537.9 M1061.2,552.0 a12.4,4.2 0 1,0 24.8,0 a12.4,4.2 0 1,0 -24.8,0 M1064.7,555.4 L1065.7,565.8 Q1073.6,569.8 1081.5,565.8 L1082.5,555.4 M1070.5,556.2 V567.8 M1076.7,556.2 V567.8"/>
<path class="l" style="stroke-width:1.98" d="M1374.8,548.0 V473.0 Q1381.6,470.5 1388.3,473.0 V548.0 M1374.8,476.0 Q1381.6,478.0 1388.3,476.0 M1374.8,479.6 Q1381.6,481.6 1388.3,479.6 M1374.8,483.2 Q1381.6,485.2 1388.3,483.2 M1374.8,486.8 Q1381.6,488.8 1388.3,486.8 M1374.8,490.4 Q1381.6,492.4 1388.3,490.4 M1374.8,494.0 Q1381.6,496.0 1388.3,494.0 M1374.8,497.6 Q1381.6,499.6 1388.3,497.6 M1374.8,501.2 Q1381.6,503.2 1388.3,501.2 M1374.8,504.8 Q1381.6,506.8 1388.3,504.8 M1374.8,508.4 Q1381.6,510.4 1388.3,508.4 M1366.4,550.0 a15.2,4.2 0 1,0 30.3,0 a15.2,4.2 0 1,0 -30.3,0 M1370.7,553.4 L1371.7,562.1 Q1381.6,566.1 1391.5,562.1 L1392.5,553.4 M1377.8,554.2 V564.1 M1385.4,554.2 V564.1"/>
<path class="l" style="stroke-width:2.16" d="M307.8,188.9 L317.0,188.9 C322.4,190.2 325.8,197.3 325.5,203.2 C324.9,209.7 319.2,214.9 311.8,214.9 C304.2,214.2 299.9,207.8 300.2,201.2 C300.5,194.8 303.0,190.2 307.8,188.9 Z M303.2,196.4 a8.8,6.5 0 1,0 17.5,0 a8.8,6.5 0 1,0 -17.5,0 M305.8,195.7 a5.2,3.9 0 1,0 10.5,0 a5.2,3.9 0 1,0 -10.5,0 M313.6,204.8 v3.9 M304.0,203.2 l1.2,3.9 M323.0,204.5 l-1.5,3.9"/>
<path class="l" style="stroke-width:2.16" d="M769.1,105.0 L778.6,105.0 C784.1,106.4 787.5,114.0 787.2,120.2 C786.6,127.0 780.9,132.6 773.2,132.6 C765.6,131.9 761.1,125.0 761.5,118.1 C761.8,111.2 764.3,106.4 769.1,105.0 Z M764.6,113.0 a8.9,6.9 0 1,0 17.8,0 a8.9,6.9 0 1,0 -17.8,0 M767.1,112.2 a5.4,4.1 0 1,0 10.7,0 a5.4,4.1 0 1,0 -10.7,0 M775.1,121.8 v4.1 M765.3,120.2 l1.2,4.1 M784.7,121.5 l-1.5,4.1"/>
<path class="l" style="stroke-width:1.98" d="M479.4,730.3 a12.7,5.7 0 1,0 25.3,0 a12.7,5.7 0 1,0 -25.3,0 M485.7,729.3 a6.3,2.6 0 1,0 12.7,0 a6.3,2.6 0 1,0 -12.7,0 M482.9,734.8 L483.4,743.0 Q492.0,746.0 500.6,743.0 L501.1,734.8 M488.8,736.4 V744.5 M495.2,736.4 V744.5"/>
<path class="l" style="stroke-width:1.98" d="M1229.4,1020.6 a10.6,5.6 0 1,0 21.2,0 a10.6,5.6 0 1,0 -21.2,0 M1234.7,1019.6 a5.3,2.6 0 1,0 10.6,0 a5.3,2.6 0 1,0 -10.6,0 M1232.4,1024.9 L1232.9,1033.0 Q1240.0,1036.0 1247.1,1033.0 L1247.6,1024.9 M1237.3,1026.5 V1034.5 M1242.7,1026.5 V1034.5"/>

<path class="l" style="stroke-width:2.04" transform="translate(571.5 513.0) rotate(31.0)" d="M-1.0,-12.2 L-7.5,-11.3 L-10.0,-4.4 L-10.0,4.4 L-7.5,11.3 L-1.0,12.2 M-10.0,-4.4 L-4.0,-5.3 M-10.0,4.4 L-4.0,5.3 M-6.5,0 a6.5,12.6 0 1,0 13.0,0 a6.5,12.6 0 1,0 -13.0,0 M4.5,-6.4 A4.5,6.7 0 1,0 4.5,6.4 M5.0,-5.4 H25.0 A2.6,5.4 0 0,1 25.0,5.4 H5.0 M11.0,-5.4 A2.6,5.4 0 0,0 11.0,5.4 M14.9,-5.4 A2.6,5.4 0 0,0 14.9,5.4 M18.8,-5.4 A2.6,5.4 0 0,0 18.8,5.4 M22.7,-5.4 A2.6,5.4 0 0,0 22.7,5.4"/>
<path class="l" style="stroke-width:2.04" transform="translate(1169.5 389.5) rotate(31.0)" d="M-1.0,-14.2 L-8.5,-13.1 L-11.0,-5.1 L-11.0,5.1 L-8.5,13.1 L-1.0,14.2 M-11.0,-5.1 L-4.0,-6.1 M-11.0,5.1 L-4.0,6.1 M-7.0,0 a7.0,14.6 0 1,0 14.0,0 a7.0,14.6 0 1,0 -14.0,0 M4.5,-7.0 A4.5,7.3 0 1,0 4.5,7.0 M5.0,-6.0 H42.0 A2.6,6.0 0 0,1 42.0,6.0 H5.0 M22.0,-6.0 A2.6,6.0 0 0,0 22.0,6.0 M25.9,-6.0 A2.6,6.0 0 0,0 25.9,6.0 M29.8,-6.0 A2.6,6.0 0 0,0 29.8,6.0 M33.7,-6.0 A2.6,6.0 0 0,0 33.7,6.0 M37.6,-6.0 A2.6,6.0 0 0,0 37.6,6.0"/>
<path class="l" style="stroke-width:2.04" transform="translate(1095.5 985.2) rotate(24.0)" d="M-1.0,-12.0 L-7.5,-11.2 L-10.0,-4.3 L-10.0,4.3 L-7.5,11.2 L-1.0,12.0 M-10.0,-4.3 L-4.0,-5.2 M-10.0,4.3 L-4.0,5.2 M-6.5,0 a6.5,12.4 0 1,0 13.0,0 a6.5,12.4 0 1,0 -13.0,0 M4.5,-6.3 A4.5,6.6 0 1,0 4.5,6.3 M5.0,-5.3 H21.0 A2.6,5.3 0 0,1 21.0,5.3 H5.0 M7.0,-5.3 A2.6,5.3 0 0,0 7.0,5.3 M10.9,-5.3 A2.6,5.3 0 0,0 10.9,5.3 M14.8,-5.3 A2.6,5.3 0 0,0 14.8,5.3 M18.7,-5.3 A2.6,5.3 0 0,0 18.7,5.3"/>
<path class="l" style="stroke-width:2.04" transform="translate(147.7 721.8) rotate(-14)" d="M0,-12 C-7,-13 -12.5,-6 -12,1 C-11.5,8 -6,13 1,12.5 C6,12 10,7 10.5,0 C11,-7 6,-11.5 0,-12 Z M3,-11.5 C8,-8 9,6 3,12 M-3,0 l5,-1 M-3,7 l1,3 M2,8 l2,2 M-5,-8 l2,3 M9.5,-5.2 H40 A2.4,5.2 0 0,1 40,5.2 H9.5 M24,-5.2 A2.4,5.2 0 0,1 24,5.2 M28,-5.2 A2.4,5.2 0 0,1 28,5.2 M32,-5.2 A2.4,5.2 0 0,1 32,5.2 M36,-5.2 A2.4,5.2 0 0,1 36,5.2"/>
<g transform="translate(1270 750) scale(0.07536)"><path class="l" style="stroke-width:22.80" d="M700,415 L790,315 L880,270 L940,330 L1010,345 L1025,400 L960,470 L820,580 L770,575 L745,510 Z M790,315 L860,390 L940,330 M860,390 L760,490 M960,380 L790,530 M1000,400 L830,560 M960,380 L960,470"/></g>
</g>
<!-- leaders.svg -->
<g id="leaders">
<path class="l" style="stroke-width:1.80" d="M271.3,205.2 H300.2 M389.9,187.6 H421.6 M853.0,105.5 H892.3 M855.7,213.1 H893.6 M913.1,259.3 H946.7 M462.8,346.4 H491.0 M240.8,352.6 H271.3 M577.5,503.7 H615.7 M1388.6,521.0 H1422.4 M1086.0,553.1 H1119.7 M162.7,610.2 H196.2 M580.5,683.4 H611.7 M246.1,929.0 H281.1 M1149.3,689.2 H1181.0 M1281.5,703.8 H1308.9 M1125.9,779.6 H1154.5 M1347.2,780.0 H1380.8 M1056.7,865.6 H1086.2 M1338.4,881.0 H1370.6 M1050.9,984.8 H1080.0 M1250.7,1022.6 H1278.0 M773.8,72.2 V105.5 M1171.0,344.7 V376.2 M1079.5,395.9 V427.0 M1340.9,355.7 V386.8 M494.7,745.5 V770.7 M151.9,734.5 V765.5"/>
<path class="l" style="stroke-width:1.92" d="M678.4,40.3 H1103.2 M153.4,873 H361.4"/>
<path class="l" style="stroke-width:1.56;stroke-dasharray:1.6 0.7" d="M678.6,40.3 V53.8 M1102.8,40.3 V53.8 M153.8,873 V892 M361,873 V892"/>
<path class="d" d="M320,220.3 L334.1,250.4"/>
<path class="d" style="stroke-dasharray:5 2.2;stroke-width:1.68" d="M377.8,239 V313 M839.4,155.5 V201 M490.3,565 V584 M490.3,682 V718"/>
<path class="d" d="M449.3,382 V421"/>
<path class="d" d="M358.9,418.6 V470.7 L489.7,544.8 V584"/>
<path class="d" d="M602.5,532 L632.3,547.5 M631,549 L598,602.6"/>
<path class="d" d="M245.7,698.5 L480,636.4"/>
<path class="d" d="M1103,895.6 V926.4 L1167.8,939.7 M1176.6,944 L1178.8,968"/>
<path class="d" d="M1346.1,794.5 L1364.2,816.3 L1267,823.7 L1284.6,845"/>
</g>
<!-- arrows.svg -->
<g id="arrows">
<path class="l" style="stroke-width:1.68" d="M611.8,261.8 L623.1,244.2 L627.4,251 L645.7,240.9 L649.5,249.9 L632.4,259.2 L631.2,265.5 Z"/>
<path class="l" style="stroke-width:1.68" d="M254.3,736.4 L249.4,761 L258.5,758.7 L281.1,834 L292.6,829.8 L268.4,754.4 L274.6,752.1 Z"/>
<path fill="#000" stroke="none" d="M31.5,1049.3 L49.5,1031.3 L51.1,1037.2 L87.2,1029.6 L88.8,1041.1 L52.8,1047.7 L55.4,1055.8 Z"/>
</g>
<!-- text.svg -->
<g id="labels">
<text class="pn" x="717.6" y="69.9" textLength="113.5" lengthAdjust="spacingAndGlyphs">90178-W0063</text>
<text class="pn" x="894.5" y="112.3" textLength="142.6" lengthAdjust="spacingAndGlyphs">90119-W0321(2)</text>
<text class="pn" x="951.8" y="267.1" textLength="142.1" lengthAdjust="spacingAndGlyphs">90119-W0320(2)</text>
<text class="pn" x="461.9" y="183.9" textLength="142.8" lengthAdjust="spacingAndGlyphs">90119-12446(2)</text>
<text class="pn" x="461.9" y="204.0" textLength="142.8" lengthAdjust="spacingAndGlyphs">90119-W0394(2)</text>
<text class="pn" x="153.2" y="210.5" textLength="112.8" lengthAdjust="spacingAndGlyphs">90178-W0063</text>
<text class="pn" x="496.6" y="351.5" textLength="141.6" lengthAdjust="spacingAndGlyphs">90119-W0320(2)</text>
<text class="pn" x="655.9" y="498.4" textLength="142.9" lengthAdjust="spacingAndGlyphs">91552-F1090(3)</text>
<text class="pn" x="655.9" y="518.2" textLength="142.9" lengthAdjust="spacingAndGlyphs">90105-W0311(3)</text>
<text class="pn" x="1115.1" y="340.0" textLength="113.1" lengthAdjust="spacingAndGlyphs">90105-16097</text>
<text class="pn" x="1462.5" y="516.6" textLength="112.4" lengthAdjust="spacingAndGlyphs">90119-16023</text>
<text class="pn" x="1462.5" y="537.4" textLength="112.4" lengthAdjust="spacingAndGlyphs">90119-W0328</text>
<text class="pn" x="1125.4" y="559.7" textLength="142.0" lengthAdjust="spacingAndGlyphs">90119-W0317(5)</text>
<text class="pn" x="439.4" y="787.5" textLength="113.4" lengthAdjust="spacingAndGlyphs">90178-W0057</text>
<text class="pn" x="95.4" y="783.6" textLength="142.5" lengthAdjust="spacingAndGlyphs">91552-F1040(2)</text>
<text class="pn" x="95.4" y="803.9" textLength="142.5" lengthAdjust="spacingAndGlyphs">90105-W0313(2)</text>
<text class="pn" x="1004.6" y="695.0" textLength="141.8" lengthAdjust="spacingAndGlyphs">90119-W0319(3)</text>
<text class="pn" x="1314.6" y="710.0" textLength="141.8" lengthAdjust="spacingAndGlyphs">90119-W0334(2)</text>
<text class="pn" x="1383.8" y="785.8" textLength="113.1" lengthAdjust="spacingAndGlyphs">90178-W0057</text>
<text class="pn" x="912.0" y="873.1" textLength="141.8" lengthAdjust="spacingAndGlyphs">90105-W0282(2)</text>
<text class="pn" x="906.7" y="992.6" textLength="141.8" lengthAdjust="spacingAndGlyphs">90105-W0282(2)</text>
<text class="pn" x="1282.4" y="1028.3" textLength="113.2" lengthAdjust="spacingAndGlyphs">90178-W0043</text>
<text class="pb" x="899.0" y="221.8" textLength="56.2" lengthAdjust="spacingAndGlyphs">12305</text>
<text class="pb" x="178.3" y="360.2" textLength="55.4" lengthAdjust="spacingAndGlyphs">12305</text>
<text class="pb" x="1051.0" y="390.9" textLength="68.8" lengthAdjust="spacingAndGlyphs">12364B</text>
<text class="pb" x="1313.2" y="350.7" textLength="69.1" lengthAdjust="spacingAndGlyphs">12363A</text>
<text class="pb" x="89.6" y="616.0" textLength="68.3" lengthAdjust="spacingAndGlyphs">12281B</text>
<text class="pb" x="614.7" y="689.6" textLength="70.0" lengthAdjust="spacingAndGlyphs">12315A</text>
<text class="pb" x="183.5" y="936.6" textLength="56.8" lengthAdjust="spacingAndGlyphs">12353</text>
<text class="pb" x="1055.0" y="787.2" textLength="67.9" lengthAdjust="spacingAndGlyphs">12328A</text>
<text class="pb" x="1374.7" y="888.2" textLength="69.6" lengthAdjust="spacingAndGlyphs">12372A</text>
<text class="rg" x="679.6" y="33.2" textLength="69.0" lengthAdjust="spacingAndGlyphs">MAXH21</text>
<text class="rg" x="1352.4" y="33.0" textLength="218.9" lengthAdjust="spacingAndGlyphs">JAPAN SOURCED PARTS</text>
<text class="rg" x="1352.4" y="53.0" textLength="218.9" lengthAdjust="spacingAndGlyphs">LOCAL SOURCED PARTS</text>
<text class="rg" x="156.2" y="867.3" textLength="196.8" lengthAdjust="spacingAndGlyphs">W/O(ENGINE HANGER)</text>
<text class="rg" x="102.8" y="1050.4" textLength="188.6" lengthAdjust="spacingAndGlyphs">VEHICLE FRONT SIDE</text>
<text class="rg" x="1506.5" y="1083.0" textLength="69.5" lengthAdjust="spacingAndGlyphs">11H60Y</text>
<text class="nt" style="font-size:21px" x="1309.5" y="35.4">※</text><text class="nt" style="font-size:17.2px" x="1331.0" y="33.0">1</text>
<text class="nt" style="font-size:21px" x="1309.5" y="55.4">※</text><text class="nt" style="font-size:17.2px" x="1330.0" y="53.0">2</text>
<text class="nt" style="font-size:21px" x="423.5" y="186.3">※</text><text class="nt" style="font-size:16.8px" x="443.2" y="183.9">1</text>
<text class="nt" style="font-size:21px" x="423.5" y="206.4">※</text><text class="nt" style="font-size:16.8px" x="442.2" y="204.0">2</text>
<text class="nt" style="font-size:21px" x="617.2" y="500.8">※</text><text class="nt" style="font-size:16.8px" x="637.1" y="498.4">1</text>
<text class="nt" style="font-size:21px" x="617.2" y="520.6">※</text><text class="nt" style="font-size:16.8px" x="636.1" y="518.2">2</text>
<text class="nt" style="font-size:21px" x="1423.9" y="519.0">※</text><text class="nt" style="font-size:16.8px" x="1443.7" y="516.6">1</text>
<text class="nt" style="font-size:21px" x="1423.9" y="539.8">※</text><text class="nt" style="font-size:16.8px" x="1442.7" y="537.4">2</text>
<text class="nt" style="font-size:21px" x="56.4" y="786.0">※</text><text class="nt" style="font-size:16.8px" x="76.3" y="783.6">1</text>
<text class="nt" style="font-size:21px" x="56.4" y="806.3">※</text><text class="nt" style="font-size:16.8px" x="75.3" y="803.9">2</text>
<text class="jp" x="103.6" y="1029.9" textLength="77" lengthAdjust="spacingAndGlyphs">車両前方</text>
</g>
</svg>
</body></html>
